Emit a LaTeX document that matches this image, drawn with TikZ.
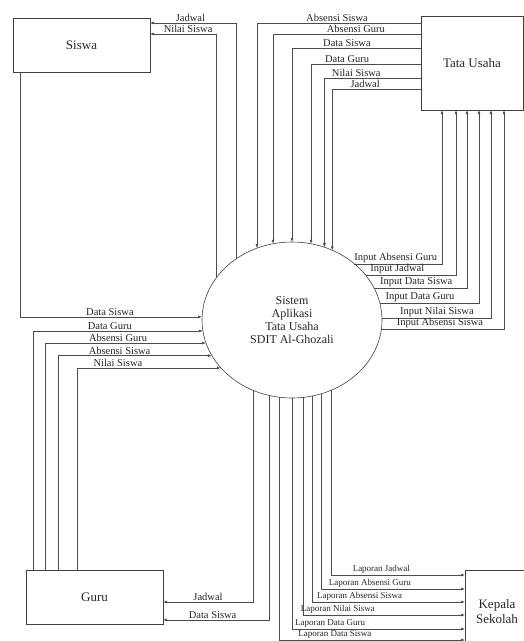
\documentclass[tikz,border=0pt]{standalone}
\usepackage{fontspec}
\setmainfont{Liberation Serif}
\usetikzlibrary{arrows.meta,shapes.geometric}

\tikzset{
    entitas/.style={draw=black!75, line width=0.6pt, minimum width=137pt, minimum height=54pt,
        inner sep=0pt, outer sep=0pt, text=black!85, font=\fontsize{13}{15}\selectfont},
    proses/.style={ellipse, draw=black!75, line width=0.6pt, minimum width=180pt, minimum height=156pt,
        inner sep=0pt, outer sep=0pt, align=center, text=black!85, font=\fontsize{12}{12.8}\selectfont},
    alur/.style={draw=black!70, line width=0.6pt, -{Latex[length=4pt,width=3pt]}},
    ket/.style={above, inner sep=1.2pt, text=black!85, font=\fontsize{10.5}{12}\selectfont},
    ketkecil/.style={ket, font=\fontsize{9}{10}\selectfont},
}

\begin{document}
\begin{tikzpicture}[x=1pt,y=-1pt]
    \useasboundingbox (0,0) rectangle (524,641);

    \node[entitas] (siswa) at (81.5,45) {Siswa};
    \node[entitas, minimum width=102pt, minimum height=94pt] (tu) at (472,63) {Tata Usaha};
    \node[entitas] (guru) at (94.5,597) {Guru};
    \node[entitas, anchor=north west, minimum width=64pt, minimum height=84pt, align=center] (kepala) at (465,570) {Kepala\\Sekolah};

    \node[proses] (sistem) at (292,320) {Sistem\\Aplikasi\\Tata Usaha\\SDIT Al-Ghozali};

    % siswa
    \draw[alur] (sistem.132.5) |- (siswa.east |- 0,23) node[ket, pos=0.767] {Jadwal};
    \draw[alur] (sistem.151.2) |- (siswa.east |- 0,34) node[ket, pos=0.712] {Nilai Siswa};
    \draw[alur] (siswa.south -| 20,0) |- (sistem.178.7) node[ket, pos=0.747] {Data Siswa};

    % tata usaha ke sistem
    \draw[alur] (tu.west |- 0,23) -| (sistem.116) node[ket, pos=0.256] {Absensi Siswa};
    \draw[alur] (tu.west |- 0,34) -| (sistem.104) node[ket, pos=0.22] {Absensi Guru};
    \draw[alur] (tu.west |- 0,48) -| (sistem.90) node[ket, pos=0.287] {Data Siswa};
    \draw[alur] (tu.west |- 0,64) -| (sistem.76) node[ket, pos=0.336] {Data Guru};
    \draw[alur] (tu.west |- 0,78) -| (sistem.66.3) node[ket, pos=0.335] {Nilai Siswa};
    \draw[alur] (tu.west |- 0,89) -| (sistem.60.2) node[ket, pos=0.315] {Jadwal};

    % sistem ke tata usaha
    \draw[alur] (sistem.42.9) -| (tu.south -| 442,0) node[ket, pos=0.236] {Input Absensi Guru};
    \draw[alur] (sistem.31.5) -| (tu.south -| 456,0) node[ket, pos=0.174] {Input Jadwal};
    \draw[alur] (sistem.21.3) -| (tu.south -| 467,0) node[ket, pos=0.226] {Input Data Siswa};
    \draw[alur] (sistem.11.6) -| (tu.south -| 479,0) node[ket, pos=0.203] {Input Data Guru};
    \draw[alur] (sistem.1.9) -| (tu.south -| 491,0) node[ket, pos=0.252] {Input Nilai Siswa};
    \draw[alur] (sistem.354.9) -| (tu.south -| 504,0) node[ket, pos=0.239] {Input Absensi Siswa};

    % guru
    \draw[alur] (guru.north -| 33,0) |- (sistem.187.7) node[ket, pos=0.726] {Data Guru};
    \draw[alur] (guru.north -| 45,0) |- (sistem.195.7) node[ket, pos=0.727] {Absensi Guru};
    \draw[alur] (guru.north -| 58,0) |- (sistem.204.3) node[ket, pos=0.70] {Absensi Siswa};
    \draw[alur] (guru.north -| 77,0) |- (sistem.214.1) node[ket, pos=0.642] {Nilai Siswa};
    \draw[alur] (sistem.241) |- (guru.east |- 0,602) node[ket, pos=0.75] {Jadwal};
    \draw[alur] (sistem.253.8) |- (guru.east |- 0,620) node[ket, pos=0.766] {Data Siswa};

    % kepala sekolah
    \draw[alur] (sistem.299.8) |- (kepala.west |- 0,575) node[ketkecil, pos=0.688] {Laporan Jadwal};
    \draw[alur] (sistem.292.2) |- (kepala.west |- 0,589) node[ketkecil, pos=0.668] {Laporan Absensi Guru};
    \draw[alur] (sistem.285.5) |- (kepala.west |- 0,602) node[ketkecil, pos=0.655] {Laporan Absensi Siswa};
    \draw[alur] (sistem.278.1) |- (kepala.west |- 0,615) node[ketkecil, pos=0.608] {Laporan Nilai Siswa};
    \draw[alur] (sistem.270) |- (kepala.west |- 0,629) node[ketkecil, pos=0.61] {Laporan Data Guru};
    \draw[alur] (sistem.261.2) |- (kepala.west |- 0,640) node[ketkecil, pos=0.649] {Laporan Data Siswa};

\end{tikzpicture}
\end{document}
